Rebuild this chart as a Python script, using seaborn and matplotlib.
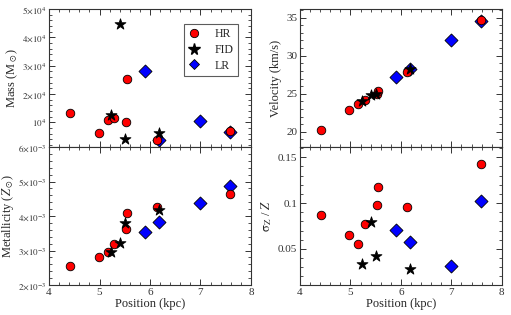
import numpy as np
import pandas as pd
import matplotlib
matplotlib.use('Agg')
import matplotlib.pyplot as plt
from matplotlib.ticker import AutoMinorLocator, FixedLocator
from matplotlib.lines import Line2D
import seaborn as sns

hr_pos = [4.42, 4.98, 5.16, 5.29, 5.52, 5.54, 6.13, 7.59]
hr_mass = [1.32e4, 0.63e4, 1.10e4, 1.17e4, 1.00e4, 2.52e4, 0.38e4, 0.69e4]
hr_vel = [20.2, 22.85, 23.7, 24.2, 25.0, 25.3, 27.9, 34.7]
hr_met = [2.56e-3, 2.82e-3, 2.96e-3, 3.20e-3, 3.63e-3, 4.08e-3, 4.25e-3, 4.64e-3]
hr_sig = [0.0873, 0.0656, 0.0558, 0.0772, 0.0982, 0.117, 0.096, 0.1424]

fid_pos = [5.23, 5.41, 5.50, 6.18]
fid_mass = [1.28e4, 4.46e4, 0.42e4, 0.63e4]
fid_vel = [24.1, 24.8, 25.0, 28.2]
fid_met = [2.97e-3, 3.21e-3, 3.80e-3, 4.17e-3]
fid_sig = [0.033, 0.0797, 0.0424, 0.0283]

lr_pos = [5.91, 6.18, 7.00, 7.58]
lr_mass = [2.82e4, 0.38e4, 1.05e4, 0.65e4]
lr_vel = [27.17, 28.26, 32.0, 34.5]
lr_met = [3.55e-3, 3.84e-3, 4.38e-3, 4.88e-3]
lr_sig = [0.071, 0.0572, 0.0315, 0.102]

mass_ticks = [1e4, 2e4, 3e4, 4e4, 5e4]
mass_labels = [r'$10^4$', r'$2{\times}10^4$', r'$3{\times}10^4$', r'$4{\times}10^4$', r'$5{\times}10^4$']
met_ticks = [2e-3, 3e-3, 4e-3, 5e-3, 6e-3]
met_labels = [r'$%d{\times}10^{-3}$' % i for i in range(2, 7)]

sns.set_style('ticks')
plt.rcParams['font.family'] = ['Liberation Serif', 'DejaVu Serif']
plt.rcParams['mathtext.fontset'] = 'stix'

df = pd.concat([
    pd.DataFrame({'run': 'LR', 'pos': lr_pos, 'mass': lr_mass, 'vel': lr_vel, 'met': lr_met, 'sig': lr_sig}),
    pd.DataFrame({'run': 'HR', 'pos': hr_pos, 'mass': hr_mass, 'vel': hr_vel, 'met': hr_met, 'sig': hr_sig}),
    pd.DataFrame({'run': 'FID', 'pos': fid_pos, 'mass': fid_mass, 'vel': fid_vel, 'met': fid_met, 'sig': fid_sig}),
])

styles = {
    'LR': dict(marker='D', color='#0000ff', s=44, zorder=3),
    'HR': dict(marker='o', color='#ff0000', s=38, zorder=4),
    'FID': dict(marker='*', color='black', s=68, zorder=5),
}

fig, axes = plt.subplots(2, 2, figsize=(5.11, 3.15), dpi=100, sharex=True)
fig.subplots_adjust(left=0.096, right=0.982, top=0.971, bottom=0.095, wspace=0.243, hspace=0)

panels = [(axes[0, 0], 'mass'), (axes[0, 1], 'vel'), (axes[1, 0], 'met'), (axes[1, 1], 'sig')]
for ax, col in panels:
    for run in ['LR', 'HR', 'FID']:
        sub = df[df['run'] == run]
        st = styles[run]
        sns.scatterplot(data=sub, x='pos', y=col, ax=ax, marker=st['marker'], color=st['color'],
                        s=st['s'], edgecolor='black', linewidth=0.6, zorder=st['zorder'], legend=False)
    ax.set_xlim(4, 8)
    ax.set_xticks([4, 5, 6, 7, 8])
    ax.xaxis.set_minor_locator(AutoMinorLocator(5))
    ax.yaxis.set_minor_locator(AutoMinorLocator(5))
    ax.tick_params(which='both', direction='in', top=True, right=True, labelsize=8, colors='#333333', pad=2)
    ax.tick_params(which='major', length=4, width=0.7)
    ax.tick_params(which='minor', length=2, width=0.6)
    for sp in ax.spines.values():
        sp.set_linewidth(0.8)
        sp.set_color('#333333')
    ax.set_xlabel('')

ax = axes[0, 0]
ax.set_ylim(1300, 5e4)
ax.yaxis.set_major_locator(FixedLocator(mass_ticks))
ax.set_yticklabels(mass_labels)
ax.yaxis.set_minor_locator(AutoMinorLocator(5))
ax.set_ylabel(r'Mass (M$_\odot$)', fontsize=9, labelpad=1)

ax = axes[0, 1]
ax.set_ylim(18, 36.1)
ax.set_yticks([20, 25, 30, 35])
ax.set_ylabel('Velocity (km/s)', fontsize=9, labelpad=3)

ax = axes[1, 0]
ax.set_ylim(2e-3, 6e-3)
ax.yaxis.set_major_locator(FixedLocator(met_ticks))
ax.set_yticklabels(met_labels)
ax.yaxis.set_minor_locator(AutoMinorLocator(5))
ax.set_ylabel(r'Metallicity ($Z_\odot$)', fontsize=9, labelpad=1)
ax.set_xlabel('Position (kpc)', fontsize=9, labelpad=1)

ax = axes[1, 1]
ax.set_ylim(0.0105, 0.161)
ax.set_yticks([0.05, 0.1, 0.15])
ax.set_yticklabels(['0.05', '0.1', '0.15'])
ax.set_ylabel(r'$\mathrm{\sigma_Z}$ / $Z$', fontsize=9, labelpad=3)
ax.set_xlabel('Position (kpc)', fontsize=9, labelpad=1)

for ax in axes[:, 0]:
    ax.tick_params(axis='y', labelsize=6.5)

handles = [
    Line2D([], [], linestyle='none', marker='o', markersize=6, markerfacecolor='#ff0000', markeredgecolor='black', markeredgewidth=0.6),
    Line2D([], [], linestyle='none', marker='*', markersize=8.5, markerfacecolor='black', markeredgecolor='black'),
    Line2D([], [], linestyle='none', marker='D', markersize=5.5, markerfacecolor='#0000ff', markeredgecolor='black', markeredgewidth=0.6),
]
leg = axes[0, 0].legend(handles, ['HR', 'FID', 'LR'], loc='upper right', bbox_to_anchor=(0.936, 0.89),
                        borderaxespad=0, fontsize=8.5, frameon=True, fancybox=False, handletextpad=1.3,
                        borderpad=0.35, labelspacing=0.3, handlelength=1.0)
leg.get_frame().set_edgecolor('#333333')
leg.get_frame().set_linewidth(0.8)

fig.savefig('out.png', dpi=100)
